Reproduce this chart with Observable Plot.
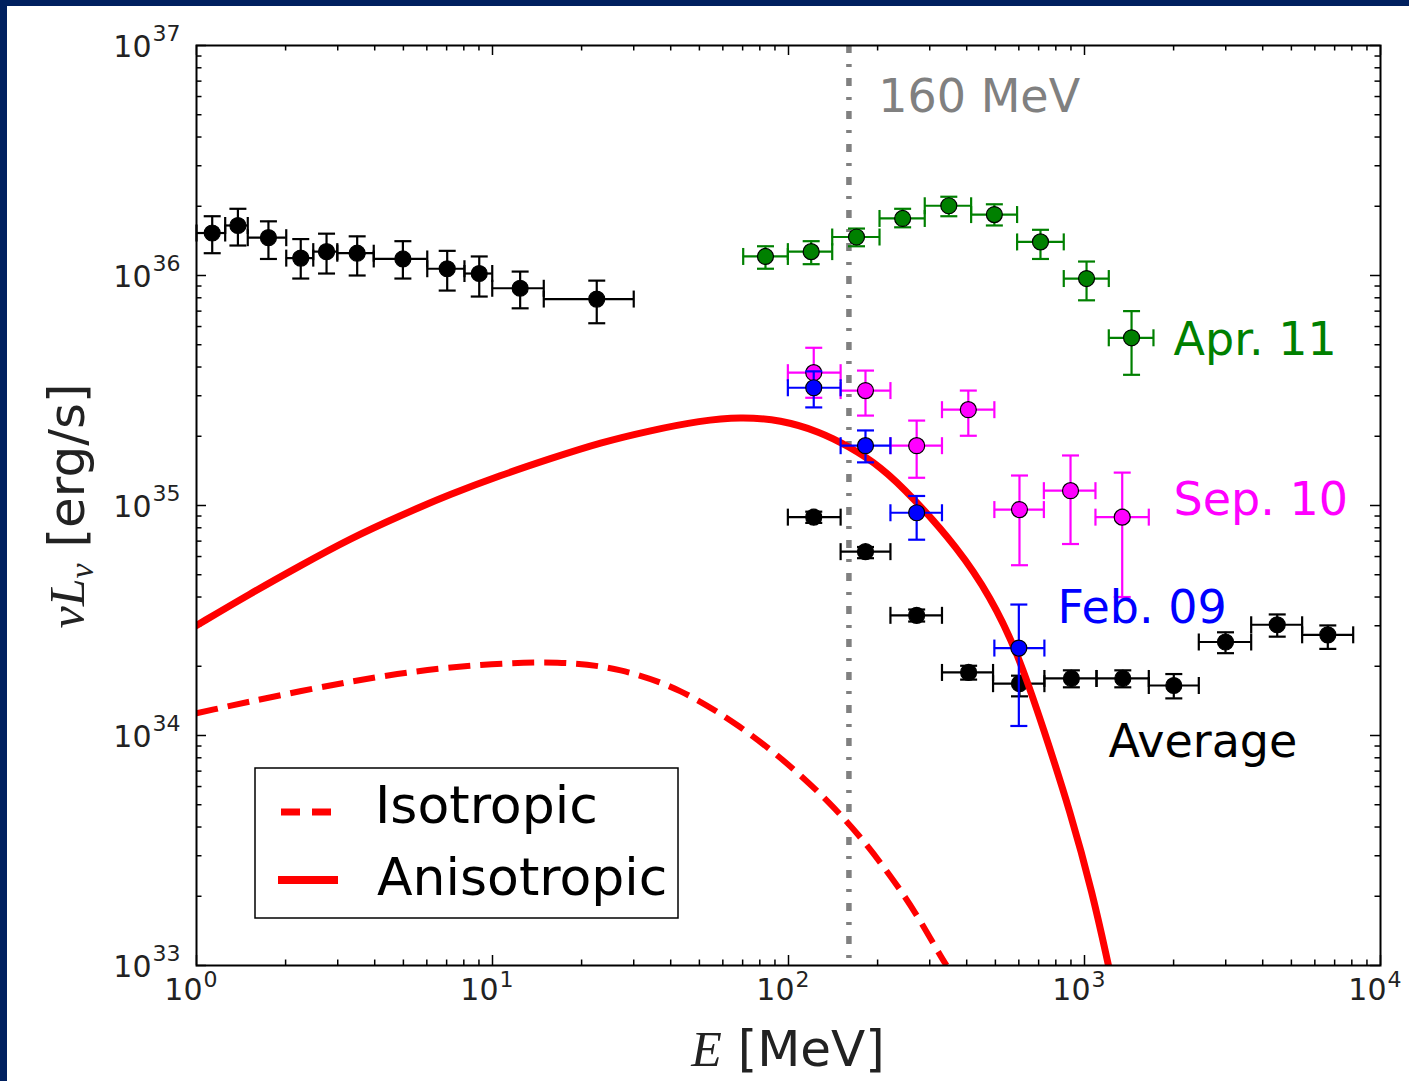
<!DOCTYPE html>
<html>
<head>
<meta charset="utf-8">
<script src="https://cdn.jsdelivr.net/npm/d3@7"></script>
<script src="https://cdn.jsdelivr.net/npm/@observablehq/plot@0.6"></script>
<style>
  html, body { margin: 0; padding: 0; background: #00205f; width: 1409px; height: 1081px; overflow: hidden; }
  #fig { position: absolute; left: 7px; top: 6px; width: 1402px; height: 1075px; background: #fff; }
  #fig svg { display: block; }
</style>
</head>
<body>
<div id="fig"></div>
<script>
// Spectral points: [E, E_low, E_high, nuLnu, nuLnu_low, nuLnu_high]  (MeV, erg/s)
const averageLow = [
  [1.13, 1.00, 1.25, 1.53e36, 1.25e36, 1.81e36],
  [1.38, 1.25, 1.49, 1.65e36, 1.35e36, 1.95e36],
  [1.75, 1.49, 2.01, 1.46e36, 1.18e36, 1.72e36],
  [2.25, 2.01, 2.48, 1.19e36, 9.7e35, 1.44e36],
  [2.75, 2.48, 2.99, 1.27e36, 1.02e36, 1.52e36],
  [3.49, 2.99, 3.97, 1.25e36, 1.00e36, 1.48e36],
  [4.98, 3.97, 6.02, 1.18e36, 9.7e35, 1.41e36],
  [7.03, 6.02, 8.04, 1.07e36, 8.6e35, 1.28e36],
  [9.02, 8.04, 9.98, 1.02e36, 8.1e35, 1.21e36],
  [12.4, 9.98, 14.9, 8.8e35, 7.2e35, 1.04e36],
  [22.5, 14.9, 30.0, 7.9e35, 6.2e35, 9.5e35]
];
const average = [
  [121.7, 99.5, 150, 8.9e34, 8.4e34, 9.4e34],
  [182, 150, 221, 6.3e34, 5.9e34, 6.6e34],
  [271, 221, 330, 3.33e34, 3.13e34, 3.53e34],
  [406, 330, 491, 1.88e34, 1.75e34, 2.01e34],
  [603, 491, 732, 1.68e34, 1.48e34, 1.82e34],
  [903, 732, 1098, 1.77e34, 1.62e34, 1.92e34],
  [1347, 1098, 1649, 1.77e34, 1.62e34, 1.92e34],
  [2003, 1649, 2433, 1.65e34, 1.45e34, 1.85e34],
  [2995, 2433, 3657, 2.55e34, 2.28e34, 2.81e34],
  [4478, 3657, 5436, 3.03e34, 2.69e34, 3.36e34],
  [6637, 5436, 8086, 2.74e34, 2.38e34, 3.01e34]
];
const apr11 = [
  [83.6, 70.3, 99.5, 1.21e36, 1.07e36, 1.34e36],
  [119.3, 99.5, 140.5, 1.27e36, 1.12e36, 1.41e36],
  [169.7, 140.5, 203, 1.47e36, 1.34e36, 1.60e36],
  [243, 203, 288.6, 1.77e36, 1.62e36, 1.95e36],
  [348, 288.6, 414, 2.01e36, 1.81e36, 2.20e36],
  [496, 414, 592, 1.84e36, 1.65e36, 2.04e36],
  [710, 592, 851, 1.40e36, 1.18e36, 1.58e36],
  [1016, 851, 1208, 9.7e35, 7.8e35, 1.15e36],
  [1442, 1208, 1710, 5.36e35, 3.70e35, 7.0e35]
];
const sep10 = [
  [121.7, 99.5, 150, 3.78e35, 2.94e35, 4.85e35],
  [182, 150, 221, 3.16e35, 2.46e35, 3.86e35],
  [271, 221, 330, 1.82e35, 1.32e35, 2.34e35],
  [405, 330, 496, 2.61e35, 2.01e35, 3.16e35],
  [603, 496, 729, 9.6e34, 5.5e34, 1.35e35],
  [897, 729, 1089, 1.16e35, 6.8e34, 1.65e35],
  [1341, 1089, 1649, 8.9e34, 4.0e34, 1.39e35]
];
const feb09 = [
  [121.7, 99.5, 150, 3.25e35, 2.67e35, 3.83e35],
  [182, 150, 221, 1.82e35, 1.54e35, 2.12e35],
  [271, 221, 330, 9.3e34, 7.1e34, 1.10e35],
  [600, 496, 732, 2.40e34, 1.10e34, 3.71e34]
];

// Model curves: [E, nuLnu]
const anisotropic = [
  [1.00, 3.01e34], [1.52, 4.14e34], [2.25, 5.49e34], [3.31, 7.19e34], [4.89, 9.05e34],
  [7.21, 1.12e35], [10.6, 1.35e35], [15.7, 1.60e35], [23.2, 1.88e35], [34.2, 2.12e35],
  [50.4, 2.34e35], [68.9, 2.43e35], [94.0, 2.36e35], [128, 2.09e35], [158, 1.82e35],
  [205, 1.48e35], [264, 1.08e35], [372, 6.57e34], [481, 4.02e34], [594, 2.30e34],
  [727, 1.07e34], [897, 4.63e33], [1065, 2.06e33], [1205, 1.0e33]
];
const isotropic = [
  [1.00, 1.25e34], [2.25, 1.57e34], [4.89, 1.88e34], [9.11, 2.04e34], [17.0, 2.11e34],
  [27.1, 1.96e34], [43.2, 1.60e34], [68.9, 1.10e34], [101.6, 7.41e33], [138.7, 5.06e33],
  [175, 3.64e33], [221, 2.46e33], [269, 1.70e33], [326, 1.10e33], [342, 1.0e33]
];

const thresholdMeV = [160];

// Annotations
const noteText = ["160 MeV", "Apr. 11", "Sep. 10", "Feb. 09", "Average"];
const noteE = [201, 2000, 2000, 811, 1205];
const noteL = [5.94e36, 5.21e35, 1.05e35, 3.57e34, 9.33e33];
const noteColor = ["#808080", "green", "magenta", "blue", "black"];

// Axis ticks
const xTicks = [1, 10, 100, 1000, 10000];
const xTickExp = ["0", "1", "2", "3", "4"];
const yTicks = [1e33, 1e34, 1e35, 1e36, 1e37];
const yTickExp = ["33", "34", "35", "36", "37"];
const xMinor = [], yMinor = [];
for (let k = 0; k < 4; k++) for (let m = 2; m <= 9; m++) xMinor.push(m * 10 ** k);
for (let k = 33; k < 37; k++) for (let m = 2; m <= 9; m++) yMinor.push(m * 10 ** k);

const W = 1402, H = 1075;
const mL = 189, mR = 29, mT = 39, mB = 116;
const FW = W - mL - mR, FH = H - mT - mB;

// short cap symbols for error bars
const capH = {draw(c, s) { const r = Math.sqrt(s / Math.PI); c.moveTo(-r, 0); c.lineTo(r, 0); }};
const capV = {draw(c, s) { const r = Math.sqrt(s / Math.PI); c.moveTo(0, -r); c.lineTo(0, r); }};

function errorMarks(rows, color) {
  const line = {stroke: color, strokeWidth: 2.2};
  return [
    Plot.ruleX(rows, {x: d => d[0], y1: d => d[4], y2: d => d[5], ...line}),
    Plot.ruleY(rows, {y: d => d[3], x1: d => d[1], x2: d => d[2], ...line}),
    Plot.dot(rows, {x: d => d[0], y: d => d[4], symbol: capH, r: 8.5, fill: "none", ...line}),
    Plot.dot(rows, {x: d => d[0], y: d => d[5], symbol: capH, r: 8.5, fill: "none", ...line}),
    Plot.dot(rows, {x: d => d[1], y: d => d[3], symbol: capV, r: 8.5, fill: "none", ...line}),
    Plot.dot(rows, {x: d => d[2], y: d => d[3], symbol: capV, r: 8.5, fill: "none", ...line}),
    Plot.dot(rows, {x: d => d[0], y: d => d[3], r: 8, fill: color, stroke: "black", strokeWidth: 1.2})
  ];
}

const tick = {stroke: "black", strokeWidth: 1.5};
const labelFill = "#222";

const chart = Plot.plot({
  width: W, height: H,
  marginLeft: mL, marginRight: mR, marginTop: mT, marginBottom: mB,
  x: {type: "log", domain: [1, 1e4], axis: null},
  y: {type: "log", domain: [1e33, 1e37], axis: null},
  color: {type: "identity"},
  style: {background: "white", fontFamily: "DejaVu Sans", overflow: "visible"},
  marks: [
    // inward tick marks on all four sides
    Plot.ruleX(xTicks, {x: d => d, insetTop: FH - 10, ...tick}),
    Plot.ruleX(xTicks, {x: d => d, insetBottom: FH - 10, ...tick}),
    Plot.ruleX(xMinor, {x: d => d, insetTop: FH - 5.5, ...tick}),
    Plot.ruleX(xMinor, {x: d => d, insetBottom: FH - 5.5, ...tick}),
    Plot.ruleY(yTicks, {y: d => d, insetRight: FW - 10, ...tick}),
    Plot.ruleY(yTicks, {y: d => d, insetLeft: FW - 10, ...tick}),
    Plot.ruleY(yMinor, {y: d => d, insetRight: FW - 5.5, ...tick}),
    Plot.ruleY(yMinor, {y: d => d, insetLeft: FW - 5.5, ...tick}),

    // tick labels 10^n
    Plot.text(xTicks, {x: d => d, frameAnchor: "bottom", text: () => "10", textAnchor: "end", dx: 6, dy: 34, fontSize: 30, fill: labelFill}),
    Plot.text(xTicks, {x: d => d, frameAnchor: "bottom", text: (d, i) => xTickExp[i], textAnchor: "start", dx: 7, dy: 21, fontSize: 22, fill: labelFill}),
    Plot.text(yTicks, {y: d => d, frameAnchor: "left", text: () => "10", textAnchor: "end", dx: -45, dy: 2, fontSize: 30, fill: labelFill}),
    Plot.text(yTicks, {y: d => d, frameAnchor: "left", text: (d, i) => yTickExp[i], textAnchor: "end", dx: -16, dy: -12, fontSize: 22, fill: labelFill}),

    // 160 MeV threshold
    Plot.ruleX(thresholdMeV, {x: d => d, stroke: "#808080", strokeWidth: 5.5, strokeDasharray: "8,11,3,11"}),

    ...errorMarks(averageLow, "black"),
    ...errorMarks(average, "black"),

    Plot.line(isotropic, {x: d => d[0], y: d => d[1], curve: "basis", stroke: "red", strokeWidth: 6, strokeDasharray: "22,10", strokeLinecap: "butt", clip: true}),
    Plot.line(anisotropic, {x: d => d[0], y: d => d[1], curve: "basis", stroke: "red", strokeWidth: 7, clip: true}),

    ...errorMarks(apr11, "green"),
    ...errorMarks(sep10, "magenta"),
    ...errorMarks(feb09, "blue"),

    Plot.text(noteText, {x: (d, i) => noteE[i], y: (d, i) => noteL[i], text: d => d, fill: (d, i) => noteColor[i], textAnchor: "start", fontSize: 46}),

    Plot.frame({stroke: "black", strokeWidth: 2})
  ]
});

document.getElementById("fig").appendChild(chart);

// axis titles and legend
const svg = d3.select(chart);
const serif = "Liberation Serif";

const yLab = svg.append("text")
  .attr("transform", "translate(77,500) rotate(-90)")
  .attr("text-anchor", "middle")
  .attr("font-size", 50)
  .attr("fill", "#222");
yLab.append("tspan").attr("font-family", serif).attr("font-style", "italic").text("νL");
yLab.append("tspan").attr("font-family", serif).attr("font-style", "italic").attr("font-size", 34).attr("dy", 9).text("ν");
yLab.append("tspan").attr("font-family", "DejaVu Sans").attr("dy", -9).text(" [erg/s]");

const xLab = svg.append("text")
  .attr("transform", "translate(781,1060)")
  .attr("text-anchor", "middle")
  .attr("font-size", 50)
  .attr("fill", "#222");
xLab.append("tspan").attr("font-family", serif).attr("font-style", "italic").text("E");
xLab.append("tspan").attr("font-family", "DejaVu Sans").text(" [MeV]");

const legend = svg.append("g").attr("text-anchor", "start");
legend.append("rect").attr("x", 248).attr("y", 762).attr("width", 423).attr("height", 150)
  .attr("fill", "white").attr("stroke", "black").attr("stroke-width", 1.5);
legend.append("line").attr("x1", 274).attr("x2", 324).attr("y1", 806).attr("y2", 806)
  .attr("stroke", "red").attr("stroke-width", 7).attr("stroke-dasharray", "19,12");
legend.append("line").attr("x1", 271).attr("x2", 331).attr("y1", 874).attr("y2", 874)
  .attr("stroke", "red").attr("stroke-width", 8);
legend.append("text").attr("x", 368).attr("y", 799).attr("dy", "0.35em").attr("text-anchor", "start")
  .attr("font-family", "DejaVu Sans").attr("font-size", 52).attr("fill", "black").text("Isotropic");
legend.append("text").attr("x", 370).attr("y", 871).attr("dy", "0.35em").attr("text-anchor", "start")
  .attr("font-family", "DejaVu Sans").attr("font-size", 52).attr("fill", "black").text("Anisotropic");
</script>
</body>
</html>
